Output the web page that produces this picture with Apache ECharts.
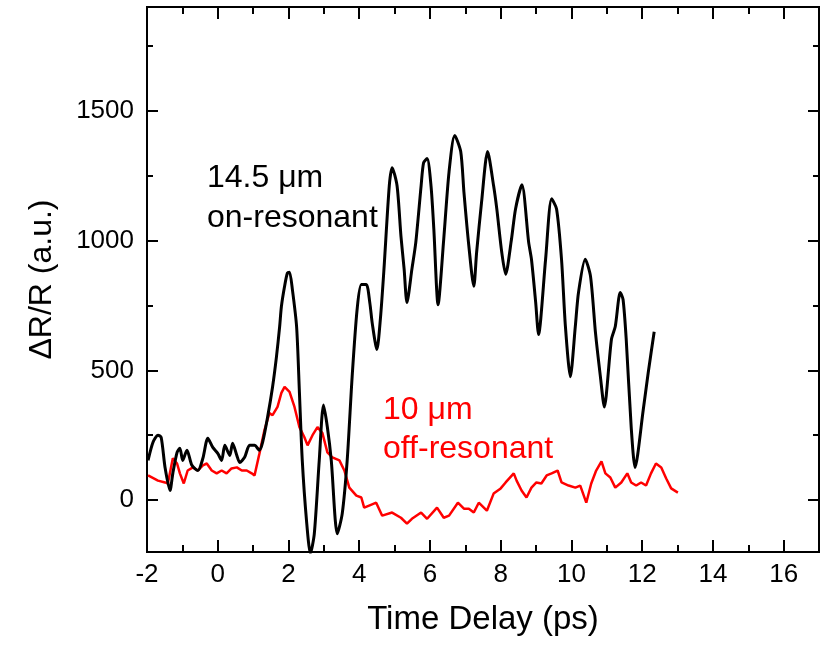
<!DOCTYPE html>
<html>
<head>
<meta charset="utf-8">
<script src="https://cdn.jsdelivr.net/npm/echarts@6/dist/echarts.min.js"></script>
<style>
  html, body { margin: 0; padding: 0; background: #fff; }
  #main { width: 821px; height: 645px; }
</style>
</head>
<body>
<div id="main"></div>
<script>
// 14.5 um (on-resonant) trace
var onX = [-1.97, -1.83, -1.69, -1.6, -1.49, -1.35, -1.27, -1.15, -1.07, -0.99, -0.87, -0.73, -0.56, -0.42,
  -0.28, -0.14, 0, 0.11, 0.2, 0.34, 0.42, 0.54, 0.62, 0.76, 0.9, 1.04, 1.18, 1.27, 1.41, 1.55, 1.66,
  1.75, 1.8, 1.89, 1.97, 2.03, 2.11, 2.23, 2.31, 2.39, 2.51, 2.62, 2.73, 2.87, 2.99, 3.1, 3.21, 3.38,
  3.52, 3.66, 3.8, 3.94, 4.06, 4.2, 4.3, 4.37, 4.5, 4.6, 4.7, 4.85, 4.93, 5.07, 5.18, 5.27, 5.35,
  5.49, 5.6, 5.75, 5.82, 5.92, 6.03, 6.11, 6.23, 6.39, 6.54, 6.7, 6.87, 6.96, 7.1, 7.24, 7.32, 7.46,
  7.63, 7.8, 7.89, 8.03, 8.14, 8.3, 8.42, 8.6, 8.79, 8.87, 8.99, 9.07, 9.27, 9.44, 9.58, 9.72,
  9.83, 9.97, 10.11, 10.2, 10.39, 10.54, 10.68, 10.82, 10.93, 11.13, 11.24, 11.38, 11.46, 11.55,
  11.69, 11.8, 12.03, 12.17, 12.34];
var onY = [153, 223, 250, 242, 126, 37, 103, 184, 200, 153, 192, 134, 114, 161,
  238, 203, 180, 153, 211, 172, 219, 172, 145, 165, 211, 211, 192, 223, 320, 436, 552,
  668, 746, 824, 875, 878, 812, 668, 413, 153, -79, -205, -130, 153, 366, 281, 153, -130,
  -52, 153, 475, 734, 831, 831, 760, 680, 580, 700, 890, 1211, 1281, 1211, 1017, 890, 761,
  890, 993, 1211, 1300, 1316, 1211, 1044, 753, 1006, 1265, 1405, 1343, 1188, 979, 824, 955, 1149,
  1343, 1211, 1122, 955, 870, 1000, 1122, 1215, 994, 928, 761, 638, 928, 1161, 1122, 928,
  669, 475, 669, 800, 928, 862, 645, 475, 359, 618, 669, 800, 773, 618,
  281, 126, 347, 490, 649];

// 10 um (off-resonant) trace
var offX = [-1.97, -1.69, -1.49, -1.41, -1.27, -1.15, -1.07, -0.96, -0.85, -0.7, -0.56, -0.42, -0.31,
  -0.17, -0.03, 0.11, 0.25, 0.39, 0.54, 0.68, 0.82, 0.96, 1.04, 1.18, 1.32, 1.46, 1.55, 1.69, 1.8,
  1.89, 2.03, 2.17, 2.31, 2.45, 2.54, 2.68, 2.82, 2.96, 3.1, 3.24, 3.44, 3.58, 3.72, 3.92, 4.06,
  4.14, 4.28, 4.48, 4.65, 4.93, 5.18, 5.35, 5.49, 5.75, 5.92, 6.2, 6.39, 6.54, 6.79, 6.96, 7.1,
  7.24, 7.38, 7.61, 7.8, 8.0, 8.14, 8.37, 8.45, 8.59, 8.73, 8.87, 9.01, 9.15, 9.3, 9.44, 9.61,
  9.72, 9.92, 10.11, 10.25, 10.42, 10.56, 10.7, 10.85, 10.96, 11.1, 11.24, 11.41, 11.58, 11.69,
  11.83, 11.97, 12.11, 12.25, 12.39, 12.54, 12.68, 12.82, 13.01];
var offY = [95, 75, 68, 64, 161, 141, 103, 64, 114, 126, 114, 134, 141,
  114, 103, 114, 103, 122, 126, 114, 114, 103, 95, 180, 269, 335, 327, 359, 413,
  436, 417, 359, 281, 242, 211, 250, 281, 258, 184, 165, 153, 114, 48, 17, 10,
  -29, -21, -10, -60, -48, -68, -91, -72, -48, -72, -29, -68, -60, -10, -33, -33,
  -48, -10, -41, 25, 45, 68, 103, 75, 37, 10, 48, 68, 64, 95, 103, 114,
  68, 56, 48, 56, -10, 64, 114, 149, 103, 87, 48, 68, 103, 68,
  56, 68, 56, 103, 141, 126, 83, 45, 29];

// ticks
var xMajor = [-2, 0, 2, 4, 6, 8, 10, 12, 14, 16];
var xMinor = [-1, 1, 3, 5, 7, 9, 11, 13, 15];
var yMajor = [0, 500, 1000, 1500];
var yMinor = [250, 750, 1250, 1750];

var onData = onX.map(function (x, i) { return [x, onY[i]]; });
var offData = offX.map(function (x, i) { return [x, offY[i]]; });

var font = 'Liberation Sans, Arial, sans-serif';

function xAx(pos, ticks, len, opts) {
  return Object.assign({
    type: 'value', position: pos, min: -2, max: 17,
    axisLine: { show: false, onZero: false },
    axisTick: { show: true, inside: true, length: len, customValues: ticks, lineStyle: { color: '#000', width: 2 } },
    axisLabel: { show: false },
    splitLine: { show: false }
  }, opts || {});
}
function yAx(pos, ticks, len, opts) {
  return Object.assign({
    type: 'value', position: pos, min: -200, max: 1900,
    axisLine: { show: false, onZero: false },
    axisTick: { show: true, inside: true, length: len, customValues: ticks, lineStyle: { color: '#000', width: 2 } },
    axisLabel: { show: false },
    splitLine: { show: false }
  }, opts || {});
}

var myChart = echarts.init(document.getElementById('main'));
myChart.setOption({
  animation: false,
  backgroundColor: '#fff',
  grid: { left: 147, right: 2, top: 7, bottom: 93, show: true, borderColor: '#000', borderWidth: 2, backgroundColor: 'transparent' },
  xAxis: [
    xAx('bottom', xMajor, 12, {
      name: 'Time Delay (ps)', nameLocation: 'middle', nameGap: 51,
      nameTextStyle: { fontFamily: font, fontSize: 33, color: '#000' },
      axisLabel: { show: true, customValues: xMajor, margin: 10, fontFamily: font, fontSize: 26, color: '#000',
        formatter: function (v) { return String(v); } }
    }),
    xAx('bottom', xMinor, 7),
    xAx('top', xMajor, 12),
    xAx('top', xMinor, 7)
  ],
  yAxis: [
    yAx('left', yMajor, 11, {
      name: 'ΔR/R (a.u.)', nameLocation: 'middle', nameGap: 89,
      nameTextStyle: { fontFamily: font, fontSize: 32, color: '#000' },
      axisLabel: { show: true, customValues: yMajor, margin: 13, fontFamily: font, fontSize: 26, color: '#000',
        formatter: function (v) { return String(v); } }
    }),
    yAx('left', yMinor, 6),
    yAx('right', yMajor, 11),
    yAx('right', yMinor, 6)
  ],
  series: [
    {
      type: 'line', name: '10 μm off-resonant', data: offData,
      xAxisIndex: 0, yAxisIndex: 0,
      showSymbol: false, symbol: 'none',
      lineStyle: { color: '#ff0000', width: 2.5 },
      clip: true, z: 2
    },
    {
      type: 'line', name: '14.5 μm on-resonant', data: onData,
      xAxisIndex: 0, yAxisIndex: 0,
      showSymbol: false, symbol: 'none', smooth: 0.25,
      lineStyle: { color: '#000', width: 3 },
      clip: true, z: 3
    }
  ],
  graphic: [
    { type: 'text', left: 207, top: 162, style: { text: '14.5 μm', font: '32px ' + font, fill: '#000' } },
    { type: 'text', left: 207, top: 202, style: { text: 'on-resonant', font: '32px ' + font, fill: '#000' } },
    { type: 'text', left: 383, top: 394, style: { text: '10 μm', font: '32px ' + font, fill: '#ff0000' } },
    { type: 'text', left: 383, top: 433, style: { text: 'off-resonant', font: '32px ' + font, fill: '#ff0000' } }
  ]
});
</script>
</body>
</html>
